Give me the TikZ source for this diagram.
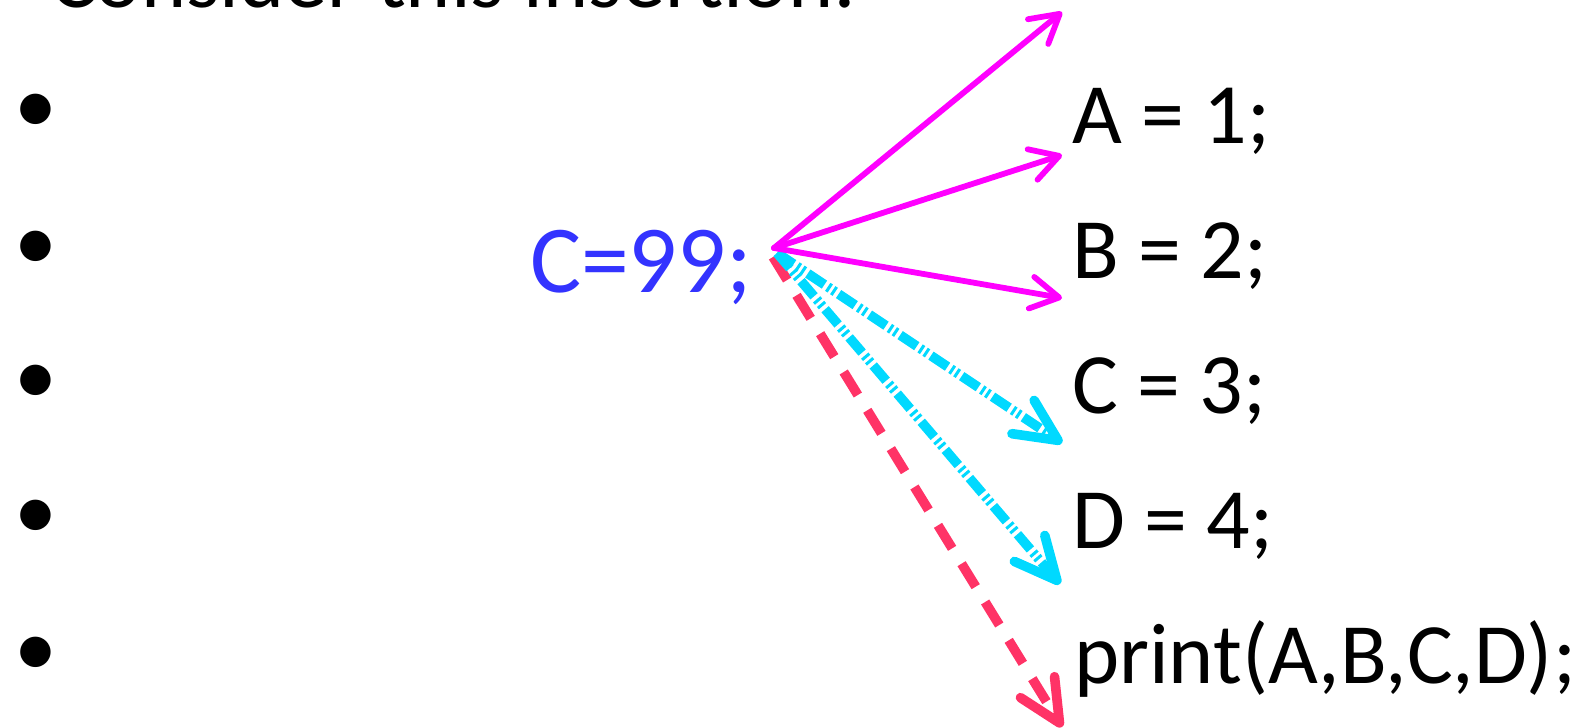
\documentclass[tikz,border=0pt]{standalone}
\usepackage{fontspec}
\setmainfont{Carlito}
\usetikzlibrary{arrows.meta}
\definecolor{codeblue}{RGB}{51,51,255}
\definecolor{linkpink}{RGB}{255,0,255}
\definecolor{linkcyan}{RGB}{0,217,255}
\definecolor{linkred}{RGB}{255,51,102}

\begin{document}
\begin{tikzpicture}[x=0.5pt, y=-0.5pt, line join=round,
    stmt/.style={inner sep=0pt, outer sep=0pt, anchor=base west, font=\fontsize{43}{50}\selectfont},
    bul/.style={inner sep=0pt, outer sep=0pt, font=\fontsize{43}{50}\selectfont},
    toold/.style={draw=linkpink, line width=2.9pt, line cap=round,
      -{Straight Barb[round, length=14pt, width=16pt]}},
    tonew/.style={draw=linkcyan, line width=4.8pt, line cap=butt,
      dash pattern=on 10pt off 2pt on 1.5pt off 1.5pt on 1.5pt off 2pt,
      -{Straight Barb[round, length=21pt, width=20pt]}},
    toprint/.style={draw=linkred, line width=4.8pt, line cap=butt,
      dash pattern=on 13.5pt off 9pt,
      -{Straight Barb[round, length=21pt, width=20pt]}}]
  \useasboundingbox (0,0) rectangle (1590,728);
  % Kopfzeile, oben abgeschnitten
  \node[stmt] (head) at (50,7) {Consider this insertion:};
  % Aufzaehlungspunkte links
  \foreach \y [count=\i] in {114,251,385,520,657}
    \node[bul] (b\i) at (36,\y) {•};
  % eingefuegte Anweisung
  \node[stmt, text=codeblue, font=\fontsize{48}{56}\selectfont] (ins) at (530,292) {C=99;};
  \coordinate (fan) at (774,248);
  % Programmzeilen rechts
  \node[stmt] (lA) at (1072,143) {A = 1;};
  \node[stmt] (lB) at (1072,278) {B = 2;};
  \node[stmt] (lC) at (1072,413) {C = 3;};
  \node[stmt] (lD) at (1072,548) {D = 4;};
  \node[stmt] (lP) at (1074,683) {print(A,B,C,D);};
  % Pfeilenden
  \coordinate (t0) at (1062,12);
  \coordinate (tA) at (1062,155);
  \coordinate (tB) at (1062,298);
  \coordinate (tC) at (1062,443);
  \coordinate (tD) at (1060,584);
  \coordinate (tP) at (1062,727);
  \draw[toprint] ([shift={(-1,9)}]fan) -- (tP);
  \draw[tonew] ([shift={(3,5)}]fan) -- (tD);
  \draw[tonew] ([shift={(3,5)}]fan) -- (tC);
  \draw[toold] (fan) -- (t0);
  \draw[toold] (fan) -- (tA);
  \draw[toold] (fan) -- (tB);
\end{tikzpicture}
\end{document}
